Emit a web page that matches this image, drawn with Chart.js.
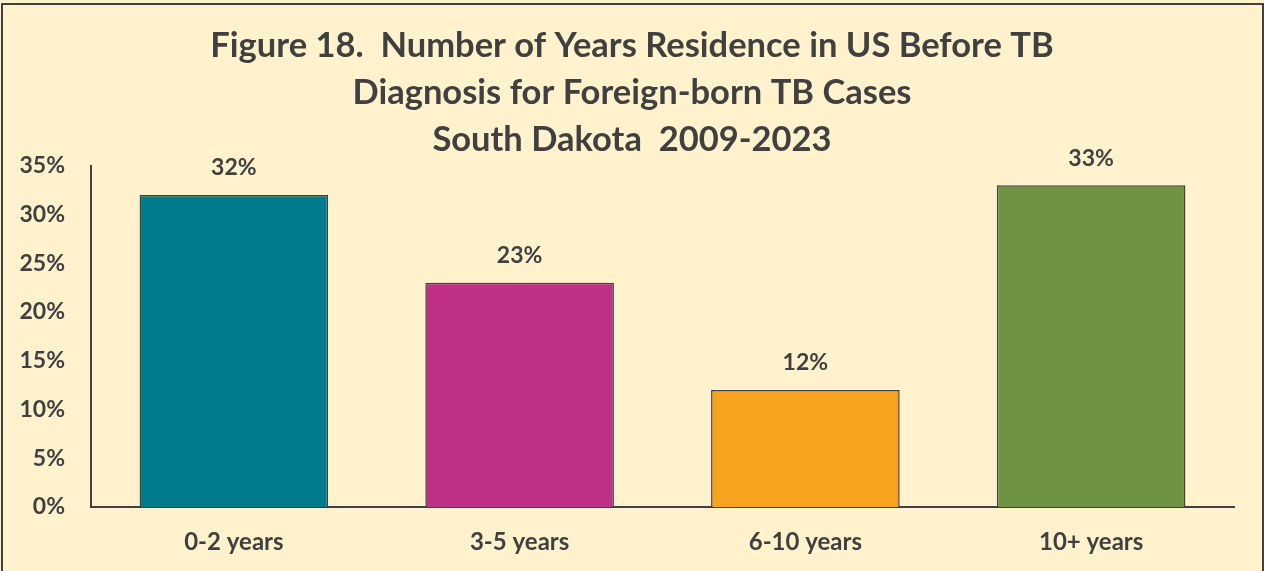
<!DOCTYPE html>
<html>
<head>
<meta charset="utf-8">
<script src="https://cdn.jsdelivr.net/npm/chart.js@4"></script>
<style>
  html, body { margin: 0; padding: 0; background: #FFF2CC; }
  #wrap { position: relative; width: 1264px; height: 571px; }
  #frame { position: absolute; left: 1px; top: 3px; width: 1259px; height: 580px;
           border: 2px solid #404040; border-bottom: none; pointer-events: none; }
</style>
</head>
<body>
<div id="wrap">
  <canvas id="chart" width="1264" height="571"></canvas>
  <div id="frame"></div>
</div>
<script>
// chart data
const categories = ['0-2 years', '3-5 years', '6-10 years', '10+ years'];
const percents = [32, 23, 12, 33];
const barColors = ['#007B8D', '#BF3087', '#F8A21F', '#6F9243'];
const titleLines = ['Figure 18.  Number of Years Residence in US Before TB',
                    'Diagnosis for Foreign-born TB Cases',
                    'South Dakota  2009-2023'];

const textColor = '#404040';
const fontFamily = 'Lato, "Open Sans", sans-serif';

// draws the % values above each bar
const barLabels = {
  id: 'barLabels',
  afterDatasetsDraw(chart) {
    const ctx = chart.ctx;
    ctx.save();
    ctx.font = 'bold 23px ' + fontFamily;
    ctx.fillStyle = textColor;
    ctx.textAlign = 'center';
    ctx.textBaseline = 'middle';
    chart.getDatasetMeta(0).data.forEach((bar, i) => {
      ctx.fillText(percents[i] + '%', bar.x, bar.y - 27);
    });
    ctx.restore();
  }
};

new Chart(document.getElementById('chart'), {
  type: 'bar',
  data: {
    labels: categories,
    datasets: [{
      data: percents,
      backgroundColor: barColors,
      borderColor: '#404040',
      borderWidth: 1.5,
      categoryPercentage: 0.66,
      barPercentage: 1
    }]
  },
  options: {
    responsive: false,
    animation: false,
    layout: { padding: { left: 0, right: 0, top: 0, bottom: 15 } },
    plugins: {
      legend: { display: false },
      tooltip: { enabled: false },
      title: {
        display: true,
        text: titleLines,
        color: textColor,
        font: { family: fontFamily, size: 34.5, weight: 'bold', lineHeight: 1.37 },
        padding: { top: 22, bottom: 2 }
      }
    },
    scales: {
      x: {
        afterFit(scale) { scale.height = 49; },
        grid: { display: false },
        border: { display: true, color: '#404040', width: 2 },
        ticks: { color: textColor, padding: 13, maxRotation: 0, font: { family: fontFamily, size: 24, weight: 'bold' } }
      },
      y: {
        min: 0,
        max: 35,
        afterFit(scale) { scale.width = 91; },
        grid: { display: false },
        border: { display: true, color: '#404040', width: 2 },
        ticks: {
          stepSize: 5,
          color: textColor,
          padding: 18,
          font: { family: fontFamily, size: 23, weight: 'bold' },
          callback: v => v + '%'
        }
      },
      // empty right-hand spacer so the title stays centred on the page
      yRight: {
        position: 'right',
        min: 0,
        max: 35,
        afterFit(scale) { scale.width = 30; },
        grid: { display: false },
        border: { display: false },
        ticks: { display: false }
      }
    }
  },
  plugins: [barLabels]
});
</script>
</body>
</html>
